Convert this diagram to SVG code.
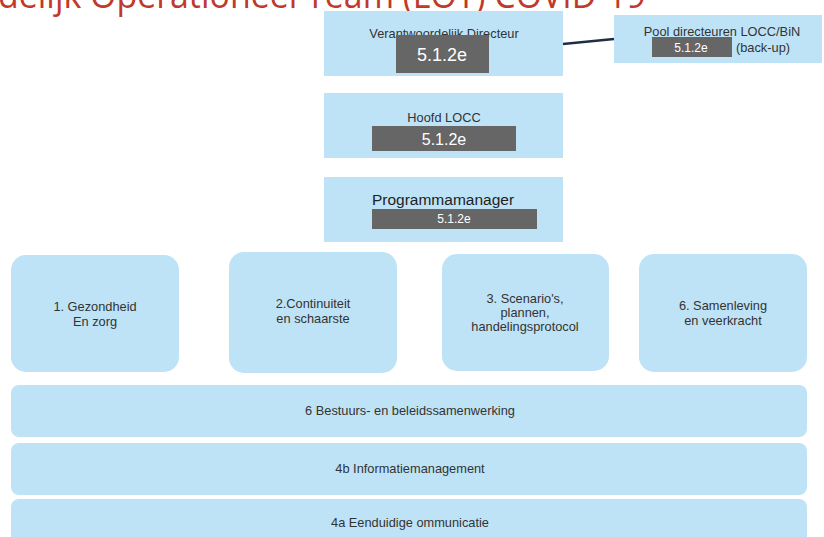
<svg xmlns="http://www.w3.org/2000/svg" width="824" height="537" viewBox="0 0 824 537">
<style>
.box{fill:#bee3f6}
.lbl{font-family:"Liberation Sans",Arial,sans-serif;font-size:12.8px;fill:#333;text-anchor:middle}
.mask{fill:#666}
.mtxt{font-family:"Liberation Sans",Arial,sans-serif;fill:#fff;text-anchor:middle}
.title{font-family:"Open Sans",sans-serif;font-size:36px;fill:#c0392b}
</style>
<rect width="824" height="537" fill="#fff"/>
<text class="title" x="-2" y="8" textLength="648" lengthAdjust="spacingAndGlyphs">delijk Operationeel Team (LOT) COVID-19</text>
<g id="connectors">
<line x1="563" y1="44" x2="614" y2="39" stroke="#1f2d45" stroke-width="2.5"/>
</g>
<g id="directeur">
<rect class="box" x="324" y="11" width="239" height="65"/>
<text class="lbl" x="444" y="38">Verantwoordelijk Directeur</text>
<rect class="mask" x="396" y="35" width="93" height="38"/>
<text class="mtxt" x="442" y="61" style="font-size:18px">5.1.2e</text>
</g>
<g id="pool">
<rect class="box" x="614" y="15" width="208" height="48"/>
<text class="lbl" x="722" y="36">Pool directeuren LOCC/BiN</text>
<rect class="mask" x="652" y="37" width="80" height="20"/>
<text class="mtxt" x="691" y="52" style="font-size:12px">5.1.2e</text>
<text class="lbl" x="763" y="52">(back-up)</text>
</g>
<g id="hoofd">
<rect class="box" x="324" y="93" width="239" height="65"/>
<text class="lbl" x="444" y="122">Hoofd LOCC</text>
<rect class="mask" x="372" y="126" width="144" height="25"/>
<text class="mtxt" x="444" y="145" style="font-size:16px">5.1.2e</text>
</g>
<g id="programmamanager">
<rect class="box" x="324" y="177" width="239" height="65"/>
<text class="lbl" x="443" y="205" style="font-size:15.5px;fill:#222">Programmamanager</text>
<rect class="mask" x="372" y="209" width="165" height="20"/>
<text class="mtxt" x="454" y="223" style="font-size:12px">5.1.2e</text>
</g>
<g id="gezondheid">
<rect class="box" x="11" y="255" width="168" height="117" rx="15"/>
<text class="lbl" x="95" y="311">1. Gezondheid</text>
<text class="lbl" x="95" y="326">En zorg</text>
</g>
<g id="continuiteit">
<rect class="box" x="229" y="252" width="168" height="121" rx="15"/>
<text class="lbl" x="313" y="308">2.Continuiteit</text>
<text class="lbl" x="313" y="323">en schaarste</text>
</g>
<g id="scenarios">
<rect class="box" x="442" y="254" width="167" height="117" rx="15"/>
<text class="lbl" x="525" y="303">3. Scenario's,</text>
<text class="lbl" x="525" y="317">plannen,</text>
<text class="lbl" x="525" y="331">handelingsprotocol</text>
</g>
<g id="samenleving">
<rect class="box" x="639" y="254" width="168" height="118" rx="15"/>
<text class="lbl" x="723" y="310">6. Samenleving</text>
<text class="lbl" x="723" y="325">en veerkracht</text>
</g>
<g id="bestuurs">
<rect class="box" x="11" y="385" width="796" height="52" rx="8"/>
<text class="lbl" x="410" y="415">6 Bestuurs-  en beleidssamenwerking</text>
</g>
<g id="informatie">
<rect class="box" x="11" y="443" width="796" height="52" rx="8"/>
<text class="lbl" x="410" y="473">4b Informatiemanagement</text>
</g>
<g id="communicatie">
<rect class="box" x="11" y="499" width="796" height="50" rx="8"/>
<text class="lbl" x="410" y="527">4a Eenduidige ommunicatie</text>
</g>
</svg>
